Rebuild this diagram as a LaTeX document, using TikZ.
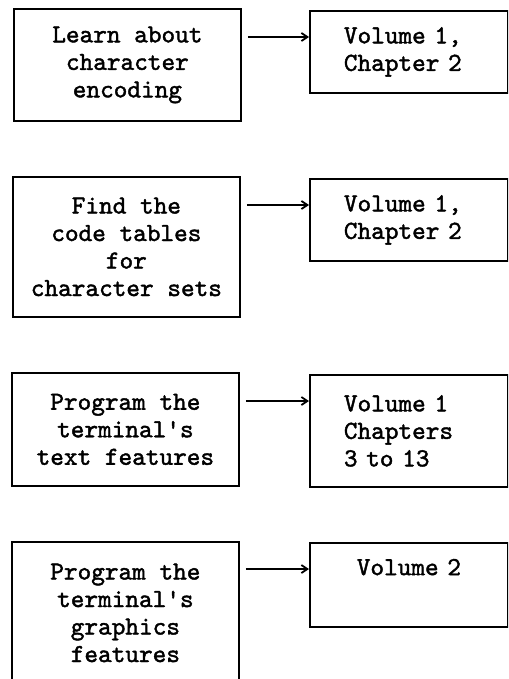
\documentclass[tikz,border=0pt]{standalone}
\usepackage{fontspec}
\newfontfamily\machine{lmmono10-regular.otf}[FakeBold=1.6]
\usetikzlibrary{arrows.meta}

\begin{document}
\begin{tikzpicture}[x=1pt, y=-1pt,
    boite/.style={draw, line width=1.8pt, anchor=north west, inner sep=0pt,
      font=\machine\fontsize{26}{27.5}\selectfont},
    gauche/.style={boite, align=center, minimum width=227pt},
    droite/.style={boite, align=left, text width=130pt, inner xsep=34pt},
    fleche/.style={-{Straight Barb[length=6pt,width=8pt]}, line width=1.8pt, shorten <=6pt}]
    \useasboundingbox (0,0) rectangle (508,679);
    \clip (0,0) rectangle (508,679); % cadre de la page

    % Colonne de gauche : les tâches
    \node[gauche, minimum height=112pt] (l1) at (13,8) {Learn about\\character\\encoding};
    \node[gauche, minimum height=140pt] (l2) at (12,176) {Find the\\code tables\\for\\character sets};
    \node[gauche, minimum height=113pt] (l3) at (11,372) {Program the\\terminal's\\text features};
    \node[gauche, minimum height=142pt] (l4) at (11,541) {Program the\\terminal's\\graphics\\features};

    % Colonne de droite : les volumes
    \node[droite, minimum height=82pt] (r1) at (309,10) {Volume 1,\\Chapter 2};
    \node[droite, minimum height=82pt] (r2) at (309,178) {Volume 1,\\Chapter 2};
    \node[droite, minimum height=112pt] (r3) at (309,374) {Volume 1\\Chapters\\3 to 13};
    \node[droite, minimum height=84pt, align=center] (r4) at (309,542) {Volume 2\\\strut};

    % Flèches
    \coordinate (a1) at ([yshift=-27pt]r1.north west);
    \coordinate (a2) at ([yshift=-27pt]r2.north west);
    \coordinate (a3) at ([yshift=-27pt]r3.north west);
    \coordinate (a4) at ([yshift=-27pt]r4.north west);
    \draw[fleche] (l1.east |- a1) -- (a1);
    \draw[fleche] (l2.east |- a2) -- (a2);
    \draw[fleche] (l3.east |- a3) -- (a3);
    \draw[fleche] (l4.east |- a4) -- (a4);
\end{tikzpicture}
\end{document}
